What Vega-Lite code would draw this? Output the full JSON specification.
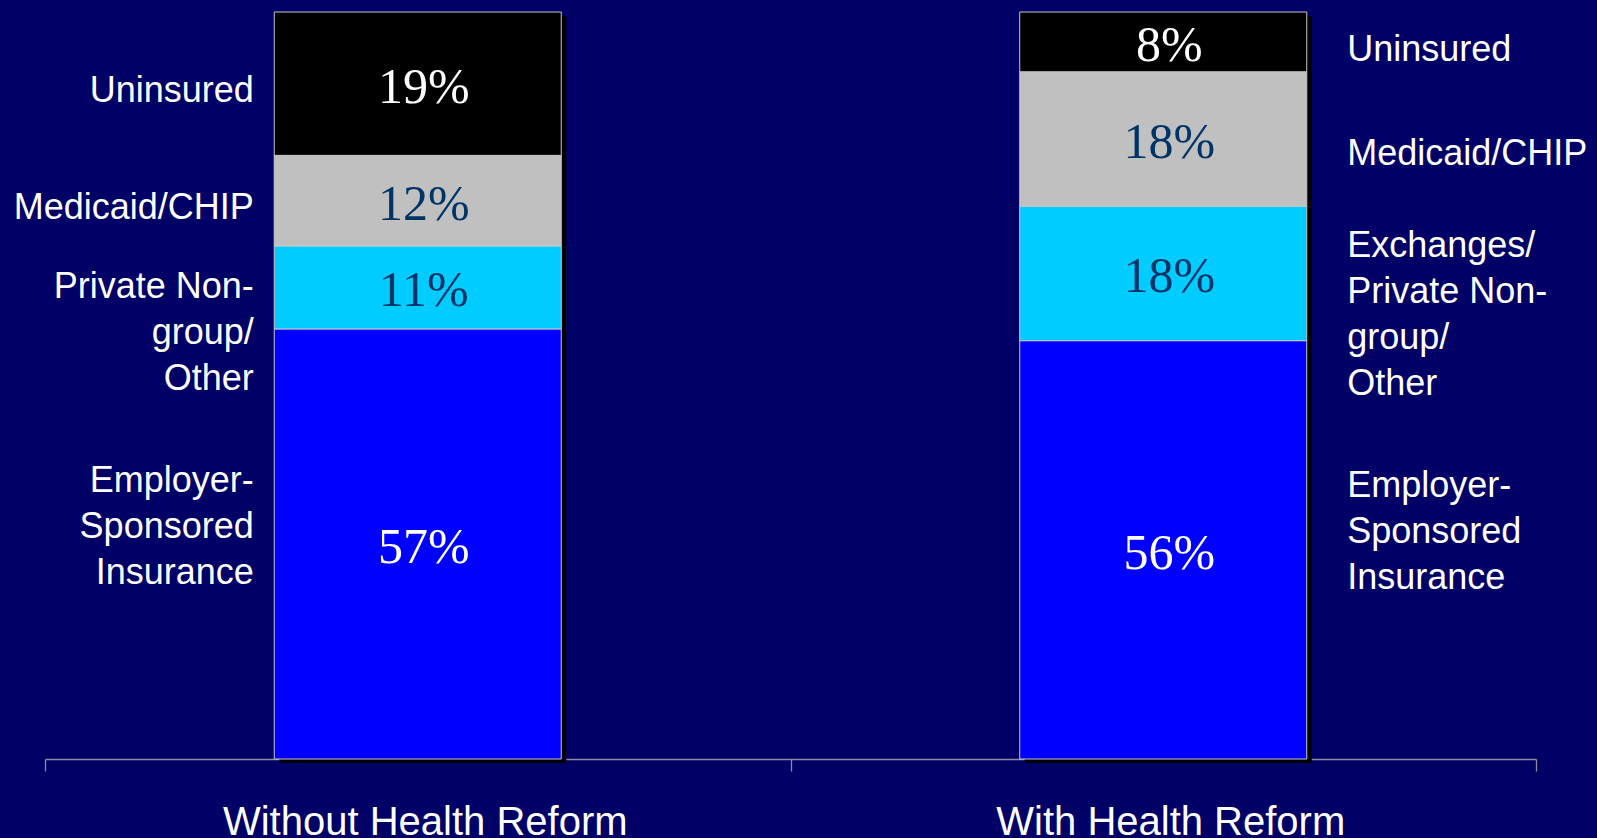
{
  "$schema": "https://vega.github.io/schema/vega-lite/v6.json",
  "width": 1491,
  "height": 747,
  "autosize": {"type": "none"},
  "padding": {"left": 45, "top": 12, "right": 61, "bottom": 79},
  "background": "#000066",
  "config": {"view": {"stroke": null}},
  "data": {
    "values": [
      {"Scenario": "Without Health Reform", "Coverage": "Employer", "Tier": 1, "Share": 0.57, "Label": "Employer-\nSponsored\nInsurance"},
      {"Scenario": "Without Health Reform", "Coverage": "Nongroup", "Tier": 2, "Share": 0.11, "Label": "Private Non-\ngroup/\nOther"},
      {"Scenario": "Without Health Reform", "Coverage": "Medicaid", "Tier": 3, "Share": 0.12, "Label": "Medicaid/CHIP"},
      {"Scenario": "Without Health Reform", "Coverage": "Uninsured", "Tier": 4, "Share": 0.19, "Label": "Uninsured"},
      {"Scenario": "With Health Reform", "Coverage": "Employer", "Tier": 1, "Share": 0.56, "Label": "Employer-\nSponsored\nInsurance"},
      {"Scenario": "With Health Reform", "Coverage": "Nongroup", "Tier": 2, "Share": 0.18, "Label": "Exchanges/\nPrivate Non-\ngroup/\nOther"},
      {"Scenario": "With Health Reform", "Coverage": "Medicaid", "Tier": 3, "Share": 0.18, "Label": "Medicaid/CHIP"},
      {"Scenario": "With Health Reform", "Coverage": "Uninsured", "Tier": 4, "Share": 0.08, "Label": "Uninsured"}
    ]
  },
  "encoding": {
    "x": {
      "field": "Scenario",
      "type": "nominal",
      "sort": ["Without Health Reform", "With Health Reform"],
      "scale": {"paddingInner": 0, "paddingOuter": 0},
      "axis": {
        "title": null,
        "labelAngle": 0,
        "tickBand": "extent",
        "tickSize": 12,
        "tickColor": "#8C8CA0",
        "tickWidth": 1.3,
        "domainColor": "#8C8CA0",
        "domainWidth": 1.3,
        "labelFont": "Liberation Sans",
        "labelFontSize": 40,
        "labelColor": "#FFFFFF",
        "labelBaseline": "alphabetic",
        "labelPadding": 63,
        "labelOffset": 7,
        "labelLimit": 0
      }
    }
  },
  "layer": [
    {
      "transform": [{"aggregate": [{"op": "sum", "field": "Share", "as": "Total"}], "groupby": ["Scenario"]}],
      "mark": {"type": "bar", "width": {"band": 0.385}, "color": "#000000", "xOffset": 5, "yOffset": 4},
      "encoding": {
        "y": {"field": "Total", "type": "quantitative", "stack": "normalize", "axis": null}
      }
    },
    {
      "mark": {"type": "bar", "width": {"band": 0.385}, "stroke": "#C8C8C8", "strokeWidth": 1},
      "encoding": {
        "y": {"field": "Share", "type": "quantitative", "stack": "normalize", "axis": null},
        "color": {
          "field": "Coverage",
          "type": "nominal",
          "scale": {"domain": ["Employer", "Nongroup", "Medicaid", "Uninsured"], "range": ["#0000FF", "#00CCFF", "#C0C0C0", "#000000"]},
          "legend": null
        },
        "order": {"field": "Tier", "type": "quantitative"}
      }
    },
    {
      "mark": {"type": "text", "font": "Liberation Serif", "fontSize": 50, "baseline": "middle", "dy": 4, "dx": 6},
      "encoding": {
        "y": {"field": "Share", "type": "quantitative", "stack": "normalize", "bandPosition": 0.5, "axis": null},
        "detail": {"field": "Coverage", "type": "nominal"},
        "order": {"field": "Tier", "type": "quantitative"},
        "text": {"field": "Share", "type": "quantitative", "format": ".0%"},
        "color": {"condition": {"test": "datum.Coverage === 'Medicaid' || datum.Coverage === 'Nongroup'", "value": "#003366"}, "value": "#FFFFFF"}
      }
    },
    {
      "mark": {"type": "text", "font": "Liberation Sans", "fontSize": 36, "color": "#FFFFFF", "baseline": "middle", "lineBreak": "\n", "lineHeight": 46, "align": "right", "dx": -164, "dy": 7},
      "encoding": {
        "y": {"field": "Share", "type": "quantitative", "stack": "normalize", "bandPosition": 0.5, "axis": null},
        "detail": {"field": "Coverage", "type": "nominal"},
        "order": {"field": "Tier", "type": "quantitative"},
        "text": {"condition": {"test": "datum.Scenario === 'Without Health Reform' && (datum.Coverage === 'Uninsured' || datum.Coverage === 'Medicaid')", "field": "Label"}, "value": ""}
      }
    },
    {
      "mark": {"type": "text", "font": "Liberation Sans", "fontSize": 36, "color": "#FFFFFF", "baseline": "middle", "lineBreak": "\n", "lineHeight": 46, "align": "right", "dx": -164, "dy": 0},
      "encoding": {
        "y": {"field": "Share", "type": "quantitative", "stack": "normalize", "bandPosition": 0.5, "axis": null},
        "detail": {"field": "Coverage", "type": "nominal"},
        "order": {"field": "Tier", "type": "quantitative"},
        "text": {"condition": {"test": "datum.Scenario === 'Without Health Reform' && datum.Coverage === 'Nongroup'", "field": "Label"}, "value": ""}
      }
    },
    {
      "mark": {"type": "text", "font": "Liberation Sans", "fontSize": 36, "color": "#FFFFFF", "baseline": "middle", "lineBreak": "\n", "lineHeight": 46, "align": "right", "dx": -164, "dy": -63},
      "encoding": {
        "y": {"field": "Share", "type": "quantitative", "stack": "normalize", "bandPosition": 0.5, "axis": null},
        "detail": {"field": "Coverage", "type": "nominal"},
        "order": {"field": "Tier", "type": "quantitative"},
        "text": {"condition": {"test": "datum.Scenario === 'Without Health Reform' && datum.Coverage === 'Employer'", "field": "Label"}, "value": ""}
      }
    },
    {
      "mark": {"type": "text", "font": "Liberation Sans", "fontSize": 36, "color": "#FFFFFF", "baseline": "middle", "lineBreak": "\n", "lineHeight": 46, "align": "left", "dx": 184, "dy": 8},
      "encoding": {
        "y": {"field": "Share", "type": "quantitative", "stack": "normalize", "bandPosition": 0.5, "axis": null},
        "detail": {"field": "Coverage", "type": "nominal"},
        "order": {"field": "Tier", "type": "quantitative"},
        "text": {"condition": {"test": "datum.Scenario === 'With Health Reform' && datum.Coverage === 'Uninsured'", "field": "Label"}, "value": ""}
      }
    },
    {
      "mark": {"type": "text", "font": "Liberation Sans", "fontSize": 36, "color": "#FFFFFF", "baseline": "middle", "lineBreak": "\n", "lineHeight": 46, "align": "left", "dx": 184, "dy": 15},
      "encoding": {
        "y": {"field": "Share", "type": "quantitative", "stack": "normalize", "bandPosition": 0.5, "axis": null},
        "detail": {"field": "Coverage", "type": "nominal"},
        "order": {"field": "Tier", "type": "quantitative"},
        "text": {"condition": {"test": "datum.Scenario === 'With Health Reform' && datum.Coverage === 'Medicaid'", "field": "Label"}, "value": ""}
      }
    },
    {
      "mark": {"type": "text", "font": "Liberation Sans", "fontSize": 36, "color": "#FFFFFF", "baseline": "middle", "lineBreak": "\n", "lineHeight": 46, "align": "left", "dx": 184, "dy": -27},
      "encoding": {
        "y": {"field": "Share", "type": "quantitative", "stack": "normalize", "bandPosition": 0.5, "axis": null},
        "detail": {"field": "Coverage", "type": "nominal"},
        "order": {"field": "Tier", "type": "quantitative"},
        "text": {"condition": {"test": "datum.Scenario === 'With Health Reform' && datum.Coverage === 'Nongroup'", "field": "Label"}, "value": ""}
      }
    },
    {
      "mark": {"type": "text", "font": "Liberation Sans", "fontSize": 36, "color": "#FFFFFF", "baseline": "middle", "lineBreak": "\n", "lineHeight": 46, "align": "left", "dx": 184, "dy": -64},
      "encoding": {
        "y": {"field": "Share", "type": "quantitative", "stack": "normalize", "bandPosition": 0.5, "axis": null},
        "detail": {"field": "Coverage", "type": "nominal"},
        "order": {"field": "Tier", "type": "quantitative"},
        "text": {"condition": {"test": "datum.Scenario === 'With Health Reform' && datum.Coverage === 'Employer'", "field": "Label"}, "value": ""}
      }
    }
  ]
}
